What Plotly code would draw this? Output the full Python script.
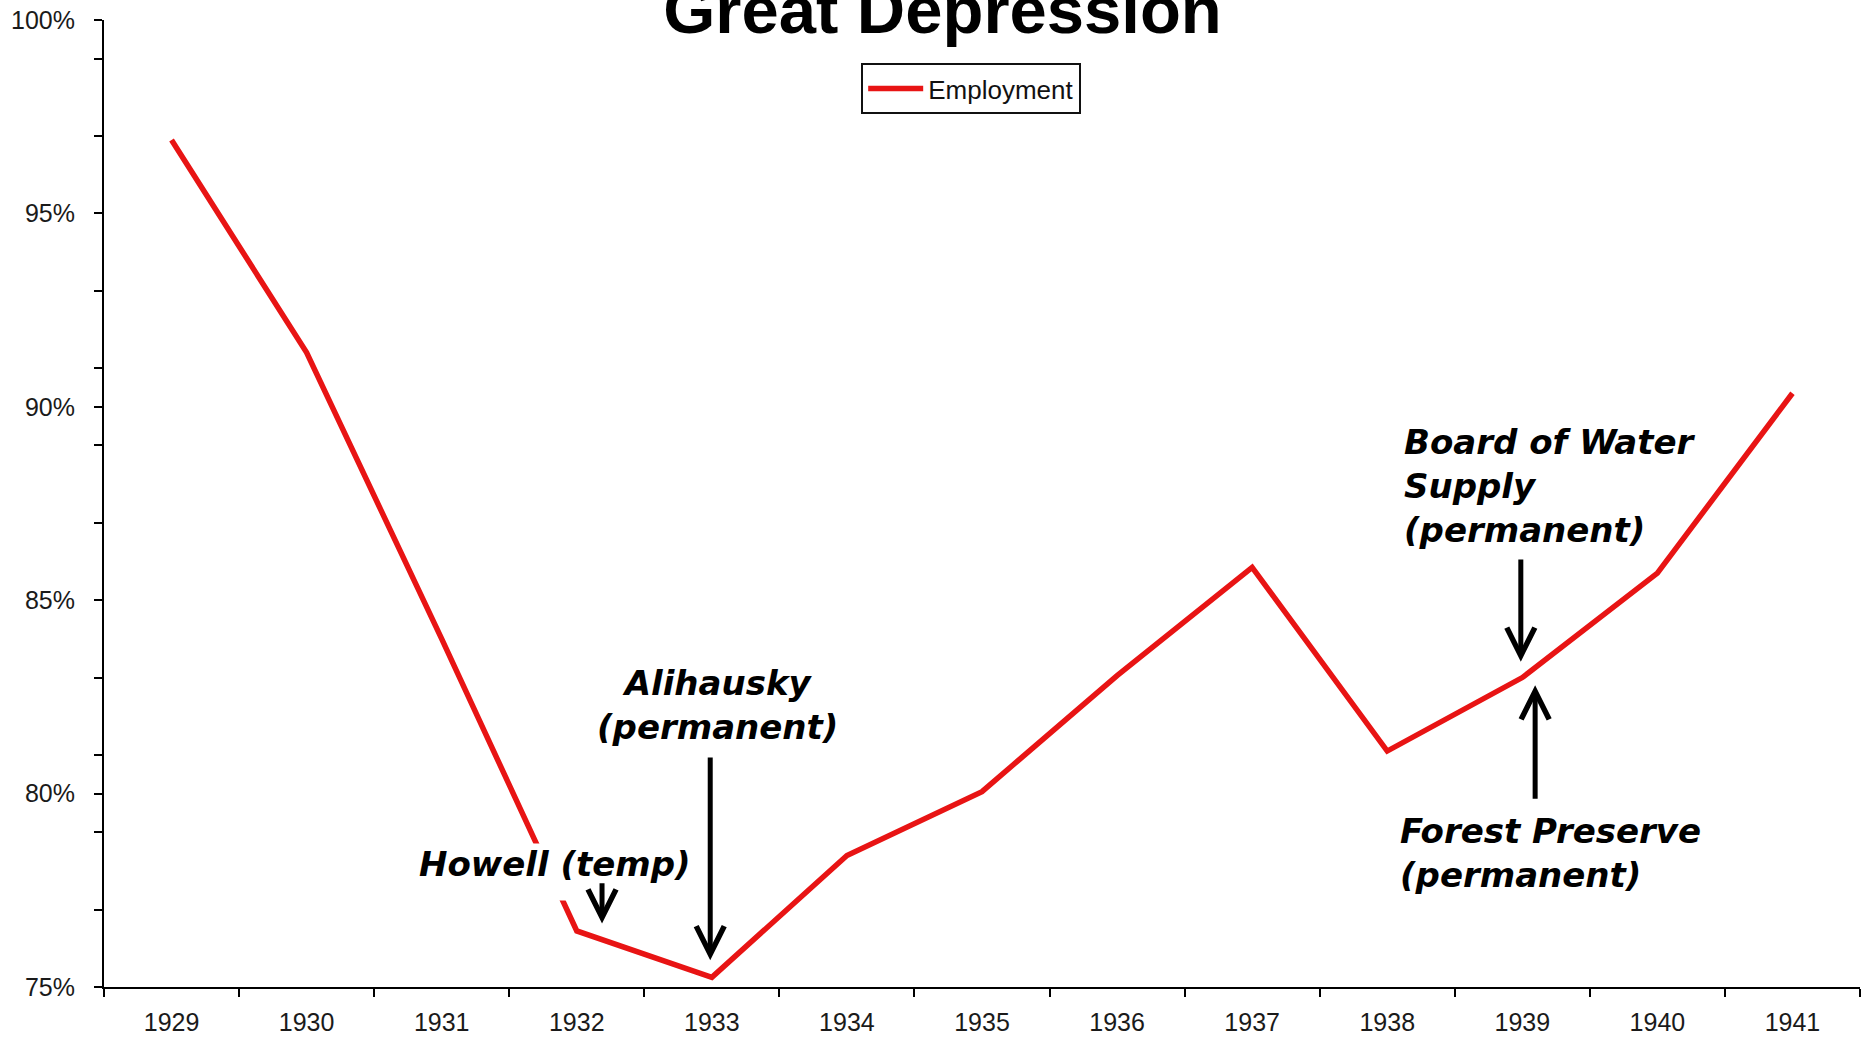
import plotly.graph_objects as go

# Employment rate by year (percent)
years = ["1929", "1930", "1931", "1932", "1933", "1934", "1935",
         "1936", "1937", "1938", "1939", "1940", "1941"]
employment = [96.9, 91.4, 84.0, 76.45, 75.25, 78.4, 80.05,
              83.05, 85.85, 81.1, 83.0, 85.7, 90.35]

y_label_vals = [75, 80, 85, 90, 95, 100]
y_label_text = ["75%", "80%", "85%", "90%", "95%", "100%"]
grid_vals = [80, 85, 90, 95]
minor_vals = [75, 77, 79, 81, 83, 85, 87, 89, 91, 93, 95, 97, 99]

LINE_RED = "#e81414"
TICK_FONT = dict(family="Liberation Sans, Arial, sans-serif", size=25, color="#1a1a1a")
NOTE_FONT = dict(family="DejaVu Sans, sans-serif", size=34, color="#000",
                 weight="bold", style="italic")

fig = go.Figure()
fig.add_trace(go.Scatter(
    x=years, y=employment, mode="lines", name="Employment",
    line=dict(color=LINE_RED, width=5.5),
))


def note(text, x, y, **kw):
    d = dict(text=text, x=x, y=y, xref="x", yref="y", showarrow=False,
             font=NOTE_FONT)
    d.update(kw)
    fig.add_annotation(**d)


def arrow(x, y_tail, y_head, size=1.1):
    fig.add_annotation(
        x=x, y=y_head, ax=x, ay=y_tail, xref="x", yref="y",
        axref="x", ayref="y", text="", showarrow=True,
        arrowhead=5, arrowsize=size, arrowwidth=5, arrowcolor="#000",
        standoff=0, startstandoff=0,
    )


# Event labels and pointers
note("Howell (temp)", 2.842, 77.98, bgcolor="#ffffff", height=56,
     valign="top", borderpad=0)
arrow(3.187, 77.72, 76.64)
note("Alihausky<br>(permanent)", 4.045, 82.30, align="center")
arrow(3.988, 80.97, 75.69)
note("Board of Water<br>Supply<br>(permanent)", 9.107, 87.96,
     xanchor="left", align="left")
arrow(9.989, 86.09, 83.41)
arrow(10.095, 79.83, 82.80)
note("Forest Preserve<br>(permanent)", 9.08, 78.47,
     xanchor="left", align="left")

fig.update_layout(
    width=1867, height=1037,
    margin=dict(l=104, r=7, t=20, b=50, autoexpand=False),
    paper_bgcolor="#ffffff", plot_bgcolor="#ffffff",
    title=dict(
        text="Great Depression",
        font=dict(family="Liberation Sans, Arial, sans-serif", size=67,
                  color="#000", weight="bold"),
        xref="container", yref="container",
        x=0.5048, xanchor="center", y=1 - 33 / 1037, yanchor="bottom",
        pad=dict(t=0, b=0, l=0, r=0),
    ),
    showlegend=True,
    legend=dict(
        x=0.4312, y=0.9555, xanchor="left", yanchor="top",
        bgcolor="#ffffff", bordercolor="#111", borderwidth=2,
        itemwidth=55,
        font=dict(family="Liberation Sans, Arial, sans-serif", size=26,
                  color="#111"),
    ),
    xaxis=dict(
        type="category", categoryorder="array", categoryarray=years,
        range=[-0.5, 12.5], tickson="boundaries", automargin=False,
        ticks="outside", ticklen=8, tickwidth=1.5, tickcolor="#000",
        showline=True, linecolor="#000", linewidth=2,
        showgrid=False, zeroline=False,
        tickfont=TICK_FONT, ticklabelstandoff=12,
    ),
    yaxis=dict(
        range=[75, 100], tickmode="array", automargin=False,
        tickvals=y_label_vals, ticktext=y_label_text,
        ticks="outside", ticklen=8, tickwidth=1.5, tickcolor="#000",
        showline=True, linecolor="#000", linewidth=2,
        showgrid=False, zeroline=False,
        tickfont=TICK_FONT, ticklabelstandoff=14,
        minor=dict(tickmode="array", tickvals=minor_vals, ticks="outside",
                   ticklen=8, tickwidth=1.5, tickcolor="#000",
                   showgrid=False),
    ),
    yaxis2=dict(
        overlaying="y", anchor="x", side="left", automargin=False,
        range=[75, 100], tickmode="array", tickvals=grid_vals,
        showticklabels=False, ticks="", showline=False, zeroline=False,
        showgrid=True, gridcolor="#222", gridwidth=1.5,
        minor=dict(tickmode="array", tickvals=minor_vals, ticks="inside",
                   ticklen=8, tickwidth=1.5, tickcolor="#000",
                   showgrid=False),
    ),
)

fig.write_html("out.html")
